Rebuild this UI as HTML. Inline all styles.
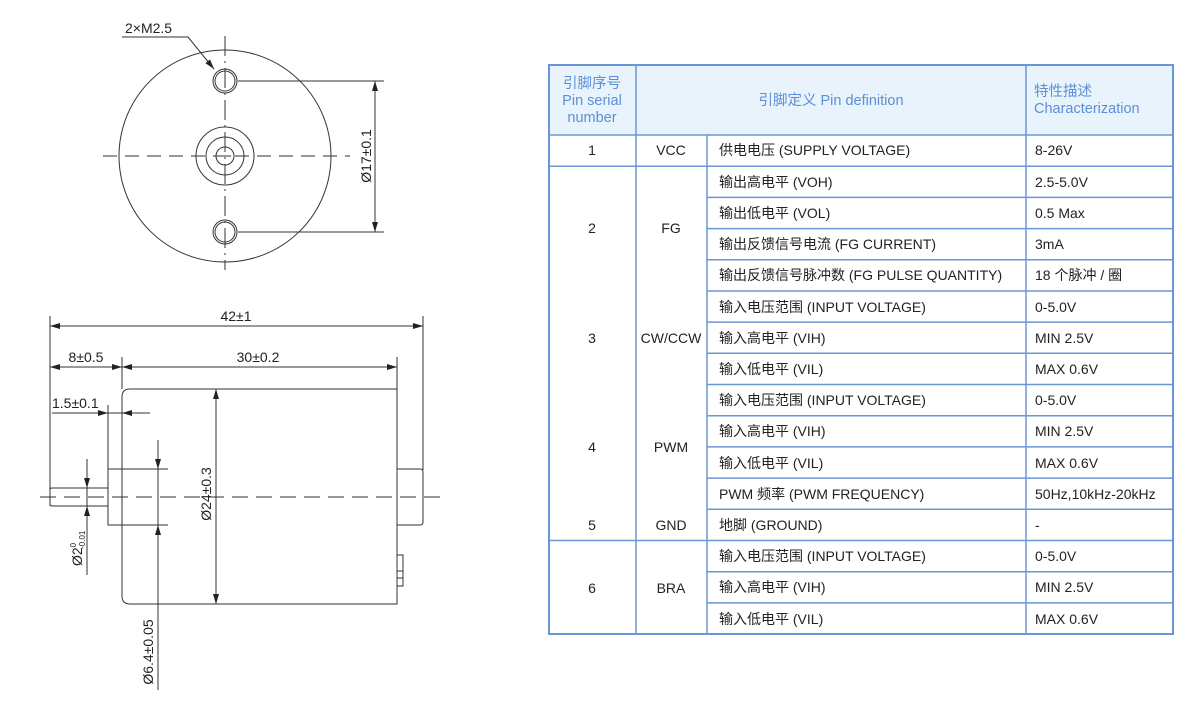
<!DOCTYPE html>
<html><head><meta charset="utf-8"><style>
html,body{margin:0;padding:0;background:#fff}
svg{display:block}
text{font-family:"Liberation Sans","Noto Sans CJK SC",sans-serif}
.d{stroke:#333;stroke-width:1;fill:none}
.t{fill:#222;font-size:14px}
.c{fill:#222;font-size:14px}
.h{fill:#5b8fd6;font-size:14.5px}
.g{stroke:#6b96d6;stroke-width:1.5}
</style></head><body>
<svg width="1186" height="701" viewBox="0 0 1186 701">
<defs>
<marker id="a" viewBox="0 0 10 6" refX="10" refY="3" markerWidth="10" markerHeight="6" orient="auto-start-reverse" markerUnits="userSpaceOnUse"><path d="M0,0 L10,3 L0,6 z" fill="#222"/></marker>
</defs>
<!-- TOP VIEW -->
<circle class="d" cx="225" cy="156" r="106"/>
<circle class="d" cx="225" cy="156" r="29"/>
<circle class="d" cx="225" cy="156" r="19"/>
<circle class="d" cx="225" cy="156" r="9"/>
<circle class="d" cx="225" cy="81" r="12"/><circle class="d" cx="225" cy="81" r="10"/>
<circle class="d" cx="225" cy="232" r="12"/><circle class="d" cx="225" cy="232" r="10"/>
<line class="d" x1="225" y1="36" x2="225" y2="270" stroke-dasharray="20,5,2,5"/>
<line class="d" x1="103" y1="156" x2="350" y2="156" stroke-dasharray="14,8"/>
<line class="d" x1="219" y1="156" x2="231" y2="156"/>
<line class="d" x1="238" y1="81" x2="384" y2="81"/>
<line class="d" x1="238" y1="232" x2="384" y2="232"/>
<line class="d" x1="375" y1="81" x2="375" y2="232" marker-start="url(#a)" marker-end="url(#a)"/>
<text class="t" transform="translate(371,156) rotate(-90)" text-anchor="middle">Ø17±0.1</text>
<text class="t" x="125" y="33">2×M2.5</text>
<polyline class="d" points="122,37 188,37 214,69" marker-end="url(#a)"/>
<!-- SIDE VIEW -->
<line class="d" x1="50" y1="316" x2="50" y2="506"/>
<line class="d" x1="423" y1="316" x2="423" y2="470"/>
<line class="d" x1="50" y1="326" x2="423" y2="326" marker-start="url(#a)" marker-end="url(#a)"/>
<text class="t" x="236" y="321" text-anchor="middle">42±1</text>
<line class="d" x1="122" y1="357" x2="122" y2="389"/>
<line class="d" x1="397" y1="357" x2="397" y2="389"/>
<line class="d" x1="50" y1="367" x2="122" y2="367" marker-start="url(#a)" marker-end="url(#a)"/>
<line class="d" x1="122" y1="367" x2="397" y2="367" marker-start="url(#a)" marker-end="url(#a)"/>
<text class="t" x="86" y="362" text-anchor="middle">8±0.5</text>
<text class="t" x="258" y="362" text-anchor="middle">30±0.2</text>
<path class="d" d="M397,389 L130,389 Q122,389 122,397 L122,596 Q122,604 130,604 L397,604 Z"/>
<line class="d" x1="108" y1="405" x2="108" y2="469"/>
<line class="d" x1="52" y1="413" x2="150" y2="413"/>
<line class="d" x1="96" y1="413" x2="108" y2="413" marker-end="url(#a)"/>
<line class="d" x1="134" y1="413" x2="122" y2="413" marker-end="url(#a)"/>
<text class="t" x="52" y="408">1.5±0.1</text>
<path class="d" d="M122,469 L108,469 L108,525 L122,525"/>
<path class="d" d="M397,469 L420,469 Q423,469 423,472 L423,522 Q423,525 420,525 L397,525"/>
<path class="d" d="M108,488 L52,488 Q50,488 50,490 L50,504 Q50,506 52,506 L108,506"/>
<line class="d" x1="40" y1="497" x2="446" y2="497" stroke-dasharray="16,8"/>
<line class="d" x1="87" y1="459" x2="87" y2="575"/>
<line class="d" x1="87" y1="474" x2="87" y2="488" marker-end="url(#a)"/>
<line class="d" x1="87" y1="520" x2="87" y2="506" marker-end="url(#a)"/>
<text class="t" transform="translate(82,566) rotate(-90)">Ø2<tspan font-size="8" dy="-6">0</tspan><tspan font-size="8" dx="-6" dy="9">-0.01</tspan></text>
<line class="d" x1="108" y1="469" x2="168" y2="469"/>
<line class="d" x1="108" y1="525" x2="168" y2="525"/>
<line class="d" x1="158" y1="440" x2="158" y2="690"/>
<line class="d" x1="158" y1="455" x2="158" y2="469" marker-end="url(#a)"/>
<line class="d" x1="158" y1="539" x2="158" y2="525" marker-end="url(#a)"/>
<text class="t" transform="translate(153,652) rotate(-90)" text-anchor="middle">Ø6.4±0.05</text>
<line class="d" x1="216" y1="389" x2="216" y2="604" marker-start="url(#a)" marker-end="url(#a)"/>
<text class="t" transform="translate(211,494) rotate(-90)" text-anchor="middle">Ø24±0.3</text>
<rect class="d" x="397" y="555" width="6" height="31"/>
<line class="d" x1="397" y1="571" x2="403" y2="571"/>
<line class="d" x1="397" y1="578" x2="403" y2="578"/>
<!-- TABLE -->
<rect x="549" y="65" width="624" height="70" fill="#e8f3fc"/>
<g class="g">
<line x1="549" y1="135" x2="1173" y2="135"/>
<line x1="549" y1="166.2" x2="1173" y2="166.2"/>
<line x1="707" y1="197.4" x2="1173" y2="197.4"/>
<line x1="707" y1="228.6" x2="1173" y2="228.6"/>
<line x1="707" y1="259.8" x2="1173" y2="259.8"/>
<line x1="707" y1="291" x2="1173" y2="291"/>
<line x1="707" y1="322.1" x2="1173" y2="322.1"/>
<line x1="707" y1="353.3" x2="1173" y2="353.3"/>
<line x1="707" y1="384.5" x2="1173" y2="384.5"/>
<line x1="707" y1="415.7" x2="1173" y2="415.7"/>
<line x1="707" y1="446.9" x2="1173" y2="446.9"/>
<line x1="707" y1="478.1" x2="1173" y2="478.1"/>
<line x1="707" y1="509.3" x2="1173" y2="509.3"/>
<line x1="549" y1="540.5" x2="1173" y2="540.5"/>
<line x1="707" y1="571.7" x2="1173" y2="571.7"/>
<line x1="707" y1="602.9" x2="1173" y2="602.9"/>
<line x1="636" y1="65" x2="636" y2="634"/>
<line x1="707" y1="135" x2="707" y2="634"/>
<line x1="1026" y1="65" x2="1026" y2="634"/>
</g>
<rect x="549" y="65" width="624" height="569" fill="none" stroke="#6b96d6" stroke-width="2"/>
<text class="h" x="592" y="88" text-anchor="middle">引脚序号</text>
<text class="h" x="592" y="105" text-anchor="middle">Pin serial</text>
<text class="h" x="592" y="122" text-anchor="middle">number</text>
<text class="h" x="831" y="105" text-anchor="middle">引脚定义 Pin definition</text>
<text class="h" x="1034" y="96">特性描述</text>
<text class="h" x="1034" y="113">Characterization</text>
<g class="c" text-anchor="middle">
<text x="592" y="155">1</text><text x="671" y="155">VCC</text>
<text x="592" y="233">2</text><text x="671" y="233">FG</text>
<text x="592" y="343">3</text><text x="671" y="343">CW/CCW</text>
<text x="592" y="452">4</text><text x="671" y="452">PWM</text>
<text x="592" y="530">5</text><text x="671" y="530">GND</text>
<text x="592" y="593">6</text><text x="671" y="593">BRA</text>
</g>
<g class="c">
<text x="719" y="155">供电电压 (SUPPLY VOLTAGE)</text><text x="1035" y="155">8-26V</text>
<text x="719" y="187">输出高电平 (VOH)</text><text x="1035" y="187">2.5-5.0V</text>
<text x="719" y="218">输出低电平 (VOL)</text><text x="1035" y="218">0.5 Max</text>
<text x="719" y="249">输出反馈信号电流 (FG CURRENT)</text><text x="1035" y="249">3mA</text>
<text x="719" y="280">输出反馈信号脉冲数 (FG PULSE QUANTITY)</text><text x="1035" y="280">18 个脉冲 / 圈</text>
<text x="719" y="312">输入电压范围 (INPUT VOLTAGE)</text><text x="1035" y="312">0-5.0V</text>
<text x="719" y="343">输入高电平 (VIH)</text><text x="1035" y="343">MIN 2.5V</text>
<text x="719" y="374">输入低电平 (VIL)</text><text x="1035" y="374">MAX 0.6V</text>
<text x="719" y="405">输入电压范围 (INPUT VOLTAGE)</text><text x="1035" y="405">0-5.0V</text>
<text x="719" y="436">输入高电平 (VIH)</text><text x="1035" y="436">MIN 2.5V</text>
<text x="719" y="468">输入低电平 (VIL)</text><text x="1035" y="468">MAX 0.6V</text>
<text x="719" y="499">PWM 频率 (PWM FREQUENCY)</text><text x="1035" y="499">50Hz,10kHz-20kHz</text>
<text x="719" y="530">地脚 (GROUND)</text><text x="1035" y="530">-</text>
<text x="719" y="561">输入电压范围 (INPUT VOLTAGE)</text><text x="1035" y="561">0-5.0V</text>
<text x="719" y="592">输入高电平 (VIH)</text><text x="1035" y="592">MIN 2.5V</text>
<text x="719" y="624">输入低电平 (VIL)</text><text x="1035" y="624">MAX 0.6V</text>
</g>
</svg>
</body></html>
